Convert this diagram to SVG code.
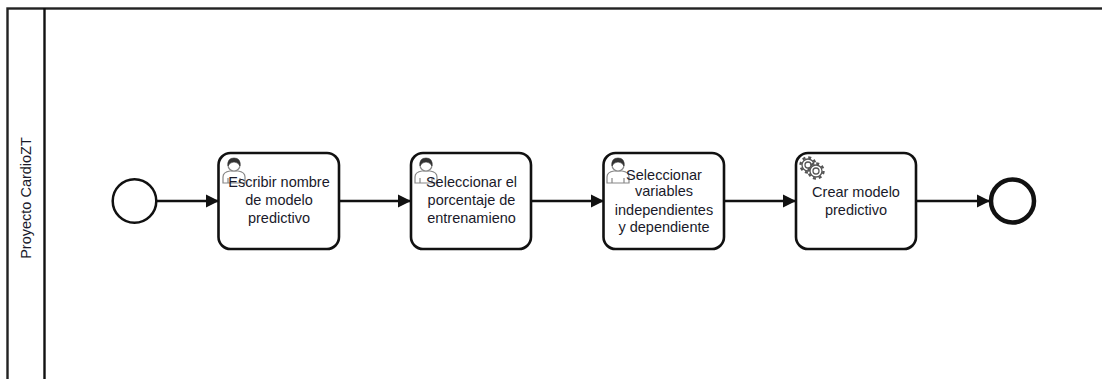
<svg xmlns="http://www.w3.org/2000/svg" width="1102" height="379" viewBox="0 0 1102 379">
<style>
.t{font-family:"Liberation Sans",Arial,sans-serif;font-size:14.500px;fill:#1a1a2a;text-anchor:middle}
.task{fill:#fff;stroke:#111;stroke-width:2.600}
.c{fill:none;stroke:#111;stroke-width:2.500;marker-end:url(#a)}
.u{fill:#fff;stroke:#888;stroke-width:1.200}
.h{fill:#333;stroke:#333;stroke-width:.6}
.gt{fill:none;stroke:#555;stroke-width:2.400;stroke-dasharray:3 2.890}
.gb{fill:#fff;stroke:#555;stroke-width:1.300}
</style>
<defs>
<marker id="a" markerUnits="userSpaceOnUse" markerWidth="14" markerHeight="14" refX="13" refY="7" orient="auto"><path d="M0 0.500L13 7L0 13.500Z" fill="#111"/></marker>
<g id="user"><path class="u" d="M-11 18V12Q-11 7-4 6H4Q11 7 11 12V18Z"/><path class="u" d="M-6 18V13M6 18V13"/><circle class="u" cx="0" cy="0" r="6"/><path class="h" d="M-6 1Q-7-7 0-7Q7-7 6 1Q4-3 0-3Q-4-3-6 1Z"/></g>
<g id="gear"><circle class="gt" r="7.500"/><circle class="gb" r="6"/><circle class="gb" r="3"/></g>
</defs>
<g id="pool"><rect x="7.500" y="8.500" width="1100" height="380" fill="#fff" stroke="#222" stroke-width="2.400"/><line x1="44.500" y1="8" x2="44.500" y2="379" stroke="#111" stroke-width="2.400"/><text class="t" transform="translate(31 198) rotate(-90)">Proyecto CardioZT</text></g>
<g id="connectors"><path class="c" d="M157 201H219"/><path class="c" d="M339 201H411"/><path class="c" d="M531 201H604"/><path class="c" d="M724 201H796"/><path class="c" d="M916 201H990"/></g>
<g id="start"><circle cx="134.500" cy="201" r="21.800" fill="#fff" stroke="#111" stroke-width="2.500"/></g>
<g id="task1"><rect class="task" x="218.500" y="153" width="120.500" height="96" rx="12"/><use href="#user" x="234" y="165"/><text class="t" x="279" y="187">Escribir nombre</text><text class="t" x="279" y="205">de modelo</text><text class="t" x="279" y="223">predictivo</text></g>
<g id="task2"><rect class="task" x="411" y="153" width="120" height="96" rx="12"/><use href="#user" x="426" y="165"/><text class="t" x="471.500" y="187">Seleccionar el</text><text class="t" x="471.500" y="205">porcentaje de</text><text class="t" x="471.500" y="223">entrenamieno</text></g>
<g id="task3"><rect class="task" x="603.500" y="153" width="120.500" height="96" rx="12"/><use href="#user" x="618" y="165"/><text class="t" x="664" y="180">Seleccionar</text><text class="t" x="664" y="196">variables</text><text class="t" x="664" y="215">independientes</text><text class="t" x="664" y="232">y dependiente</text></g>
<g id="task4"><rect class="task" x="796" y="153" width="120" height="96" rx="12"/><text class="t" x="856" y="197">Crear modelo</text><text class="t" x="856" y="215">predictivo</text><use href="#gear" x="808" y="165"/><use href="#gear" x="816" y="171"/></g>
<g id="end"><circle cx="1012.500" cy="201" r="21.500" fill="#fff" stroke="#111" stroke-width="4.500"/></g>
</svg>
